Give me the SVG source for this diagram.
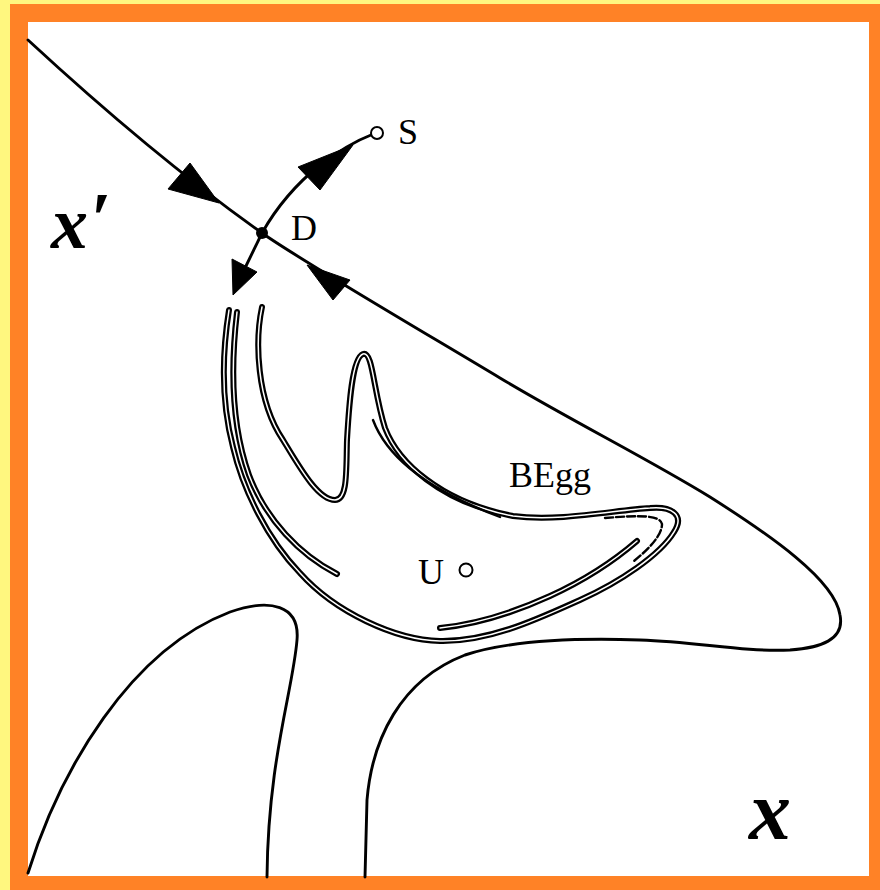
<svg xmlns="http://www.w3.org/2000/svg" xmlns:xlink="http://www.w3.org/1999/xlink" width="880" height="890" viewBox="0 0 880 890">
<style>
.curve{fill:none;stroke:#000;stroke-width:2.9;stroke-linecap:round;stroke-linejoin:round}
.blk{fill:none;stroke:#000;stroke-width:6;stroke-linecap:round;stroke-linejoin:round}
.wht{fill:none;stroke:#fff;stroke-width:1.5;stroke-linecap:round;stroke-linejoin:round}
.thin{fill:none;stroke:#000;stroke-width:2.4;stroke-linecap:round}
.arr{fill:#000;stroke:#000;stroke-width:1;stroke-linejoin:miter}
.lbl{font-family:"Liberation Serif","Times New Roman",serif;font-size:36px;fill:#000}
.axis{font-family:"Liberation Serif","Times New Roman",serif;font-weight:bold;font-style:italic;fill:#000}
.pt{fill:#fff;stroke:#000;stroke-width:2}
</style>
<defs>
<path id="p1" d="M262,307 C255,340 256,400 283,440 C300,468 318,500 335,500 C348,500 346,470 347,440 C349,405 352,358 363,354 C373,351 373,390 385,428 C398,462 440,502 513,516 C560,522 615,510 650,508 C672,506 685,515 674,532 C660,555 620,582 580,600 C540,618 490,642 440,641 C395,640 335,612 300,573 C268,540 243,490 233,447 C222,405 221,360 229,310"/>
<path id="p2" d="M237,312 C230,372 233,430 249,475 C266,520 300,555 337,574"/>
<path id="p3" d="M637,541 C615,560 585,580 550,596 C515,612 480,624 440,628"/>
</defs>
<rect x="0" y="0" width="880" height="890" fill="#fff77f"/>
<rect x="10" y="4" width="870" height="886" fill="#ff8226"/>
<rect x="28" y="22" width="841" height="854" fill="#fff"/>

<g id="left-lobe"><path class="curve" d="M28,873 C60,770 130,650 230,612 C270,598 300,605 297,640 C293,690 268,760 267,877"/></g>

<g id="connectors">
<path class="curve" d="M28,40 C120,125 190,182 262,233 C300,260 420,330 500,378 C570,420 650,460 710,497 C770,535 835,580 840,615 C845,640 820,648 790,650 C740,652 700,642 640,640 C580,638 510,640 465,655 C400,680 372,740 367,800 L365,877"/>
<path class="curve" d="M262,233 C275,210 295,185 320,165 C340,150 358,140 371,135"/>
<path class="curve" d="M262,233 L245,268"/>
<polygon class="arr" points="168,189 190,163 219,203"/>
<polygon class="arr" points="307,265 333,300 350,280"/>
<polygon class="arr" points="298,167 320,190 353,145"/>
<polygon class="arr" points="232,259 257,272 233,295"/>
</g>

<g id="BEgg">
<use xlink:href="#p1" class="blk"/><use xlink:href="#p1" class="wht"/>
<use xlink:href="#p2" class="blk"/><use xlink:href="#p2" class="wht"/>
<use xlink:href="#p3" class="blk"/><use xlink:href="#p3" class="wht"/>
<path class="thin" d="M373,420 C385,452 420,487 500,517"/>
<path class="thin" stroke-dasharray="8 3" d="M605,518 C640,515 660,515 662,524 C662,535 650,548 634,561"/>
<text class="lbl" x="509" y="487">BEgg</text>
</g>

<g id="D"><circle cx="262" cy="233" r="6" fill="#000"/><text class="lbl" x="291" y="240">D</text></g>
<g id="S"><circle class="pt" cx="377" cy="133" r="6"/><text class="lbl" x="398" y="144">S</text></g>
<g id="U"><circle class="pt" cx="466" cy="570" r="6.5"/><text class="lbl" x="418" y="584">U</text></g>

<g id="axis-xprime"><text class="axis" x="51" y="248" font-size="74">x<tspan dx="2" dy="-4">′</tspan></text></g>
<g id="axis-x"><text class="axis" x="749" y="839" font-size="84">x</text></g>
</svg>
